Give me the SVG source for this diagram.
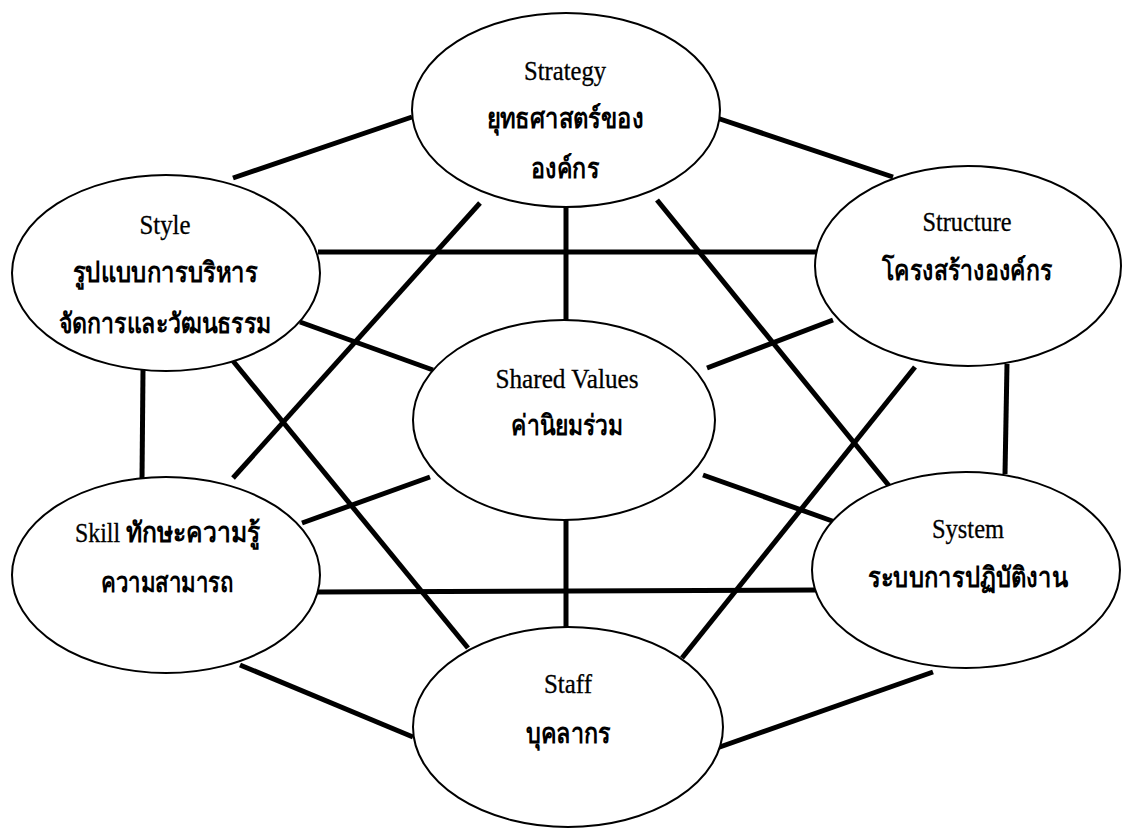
<svg xmlns="http://www.w3.org/2000/svg" width="1122" height="828" viewBox="0 0 1122 828">
<style>
.node ellipse{fill:#fff;stroke:#000;stroke-width:2}
.conn line{stroke:#000;stroke-width:5;stroke-linecap:butt}
text{font-family:"Liberation Serif","Noto Sans","DejaVu Sans",serif;text-anchor:middle;fill:#000}
.en{font-size:27px;stroke:#000;stroke-width:0.3}
.th{font-size:28px;font-weight:bold}
.st{text-anchor:start}
</style>
<rect width="1122" height="828" fill="#fff"/>
<g id="connectors" class="conn">
<line x1="233" y1="178" x2="412" y2="117"/>
<line x1="717" y1="118" x2="893" y2="177"/>
<line x1="318" y1="252" x2="818" y2="252"/>
<line x1="566" y1="205" x2="566" y2="322"/>
<line x1="300" y1="322" x2="433" y2="370"/>
<line x1="833" y1="320" x2="707" y2="368"/>
<line x1="480" y1="203" x2="233" y2="478"/>
<line x1="657" y1="200" x2="890" y2="487"/>
<line x1="233" y1="361" x2="468" y2="648"/>
<line x1="915" y1="367" x2="682" y2="658"/>
<line x1="143" y1="370" x2="142" y2="479"/>
<line x1="1007" y1="364" x2="1005" y2="474"/>
<line x1="302" y1="523" x2="430" y2="477"/>
<line x1="835" y1="522" x2="703" y2="475"/>
<line x1="318" y1="592" x2="816" y2="590"/>
<line x1="566" y1="518" x2="566" y2="628"/>
<line x1="240" y1="665" x2="413" y2="737"/>
<line x1="717" y1="748" x2="933" y2="672"/>
</g>
<g id="strategy" class="node">
<ellipse cx="566" cy="110" rx="154" ry="97"/>
<text class="en" x="565" y="80" textLength="82" lengthAdjust="spacingAndGlyphs">Strategy</text>
<text class="th" x="565" y="128" textLength="157" lengthAdjust="spacingAndGlyphs">ยุทธศาสตร์ของ</text>
<text class="th" x="565" y="178" textLength="68" lengthAdjust="spacingAndGlyphs">องค์กร</text>
</g>
<g id="style" class="node">
<ellipse cx="166" cy="273" rx="154" ry="98"/>
<text class="en" x="165" y="234" textLength="51" lengthAdjust="spacingAndGlyphs">Style</text>
<text class="th" x="165" y="282" textLength="185" lengthAdjust="spacingAndGlyphs">รูปแบบการบริหาร</text>
<text class="th" x="165" y="333" textLength="212" lengthAdjust="spacingAndGlyphs">จัดการและวัฒนธรรม</text>
</g>
<g id="structure" class="node">
<ellipse cx="968" cy="266" rx="153" ry="100"/>
<text class="en" x="967" y="231" textLength="89" lengthAdjust="spacingAndGlyphs">Structure</text>
<text class="th" x="967" y="280" textLength="170" lengthAdjust="spacingAndGlyphs">โครงสร้างองค์กร</text>
</g>
<g id="shared-values" class="node">
<ellipse cx="564" cy="420" rx="151" ry="100"/>
<text class="en" x="567" y="388" textLength="143" lengthAdjust="spacingAndGlyphs">Shared Values</text>
<text class="th" x="567" y="435" textLength="112" lengthAdjust="spacingAndGlyphs">ค่านิยมร่วม</text>
</g>
<g id="skill" class="node">
<ellipse cx="166" cy="575" rx="154" ry="98"/>
<text class="en st" x="75" y="542" textLength="45" lengthAdjust="spacingAndGlyphs">Skill</text>
<text class="th st" x="126" y="542" textLength="134" lengthAdjust="spacingAndGlyphs">ทักษะความรู้</text>
<text class="th" x="167" y="592" textLength="133" lengthAdjust="spacingAndGlyphs">ความสามารถ</text>
</g>
<g id="system" class="node">
<ellipse cx="966" cy="570" rx="154" ry="98"/>
<text class="en" x="968" y="538" textLength="72" lengthAdjust="spacingAndGlyphs">System</text>
<text class="th" x="968" y="587" textLength="200" lengthAdjust="spacingAndGlyphs">ระบบการปฏิบัติงาน</text>
</g>
<g id="staff" class="node">
<ellipse cx="568" cy="727" rx="155" ry="100"/>
<text class="en" x="568" y="693" textLength="48" lengthAdjust="spacingAndGlyphs">Staff</text>
<text class="th" x="568" y="743" textLength="85" lengthAdjust="spacingAndGlyphs">บุคลากร</text>
</g>
</svg>
